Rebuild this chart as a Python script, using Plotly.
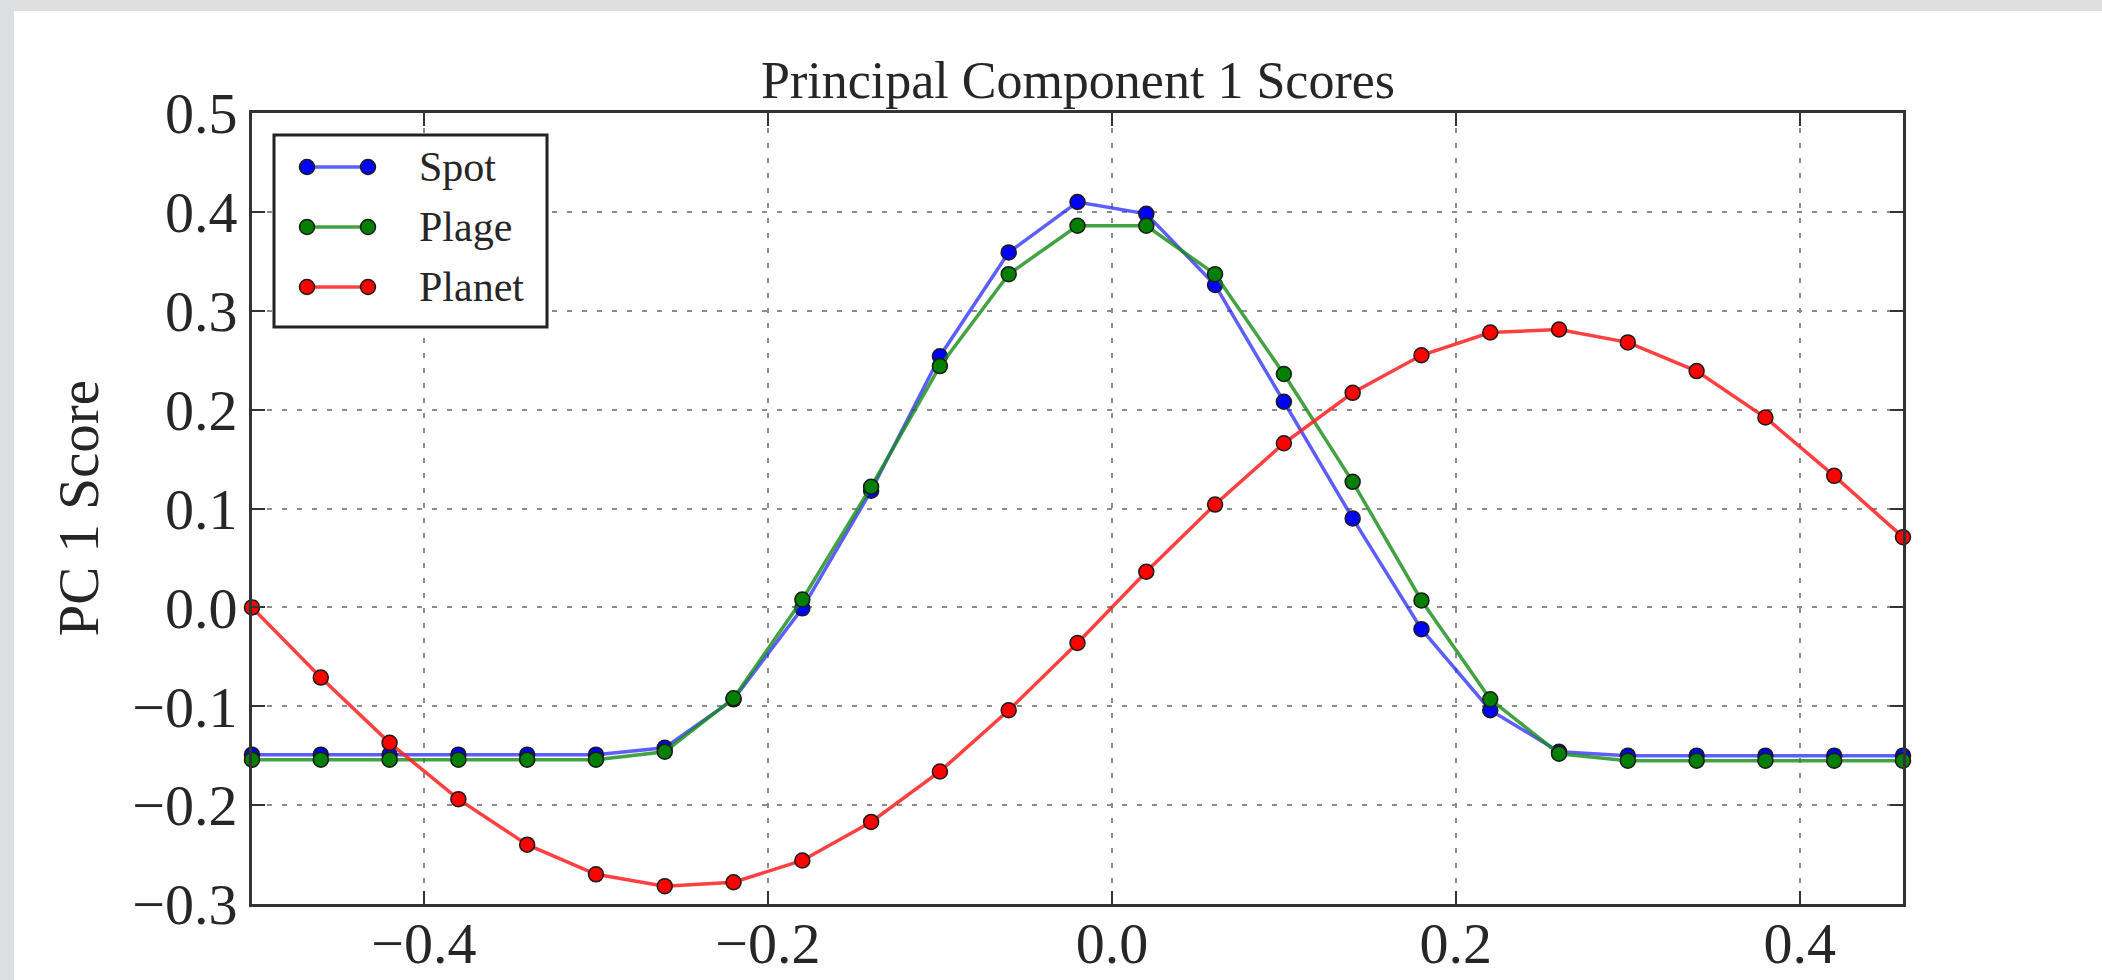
import plotly.graph_objects as go

# Phase positions of the sampled profiles
phase = [-0.50, -0.46, -0.42, -0.38, -0.34, -0.30, -0.26, -0.22, -0.18, -0.14,
         -0.10, -0.06, -0.02, 0.02, 0.06, 0.10, 0.14, 0.18, 0.22, 0.26,
         0.30, 0.34, 0.38, 0.42, 0.46]

# PC 1 scores for each scenario
spot = [-0.149, -0.149, -0.149, -0.149, -0.149, -0.149, -0.142, -0.093, -0.001, 0.118,
        0.254, 0.359, 0.410, 0.398, 0.326, 0.208, 0.090, -0.022, -0.104, -0.146,
        -0.150, -0.150, -0.150, -0.150, -0.150]
plage = [-0.154, -0.154, -0.154, -0.154, -0.154, -0.154, -0.146, -0.092, 0.008, 0.122,
         0.244, 0.337, 0.386, 0.386, 0.337, 0.236, 0.127, 0.007, -0.093, -0.148,
         -0.155, -0.155, -0.155, -0.155, -0.155]
planet = [0.000, -0.071, -0.137, -0.194, -0.240, -0.270, -0.282, -0.278, -0.256, -0.217,
          -0.166, -0.104, -0.036, 0.036, 0.104, 0.166, 0.217, 0.255, 0.278, 0.281,
          0.268, 0.239, 0.192, 0.133, 0.071]

series_names = ["Spot", "Plage", "Planet"]
marker_colors = ["#0000ff", "#007f00", "#ff0000"]
line_colors = ["rgba(40,40,255,0.75)", "rgba(20,140,20,0.8)", "rgba(255,30,30,0.85)"]

x_ticks = [-0.4, -0.2, 0.0, 0.2, 0.4]
y_ticks = [-0.3, -0.2, -0.1, 0.0, 0.1, 0.2, 0.3, 0.4, 0.5]

W, H = 2102, 980
L, R, T, B = 252, 1903, 113, 904  # plot area in pixels
SERIF = "Liberation Serif, Times New Roman, serif"
INK = "#262626"


def px(X):
    return (X - L) / (R - L)


def py(Y):
    return (B - Y) / (B - T)


fig = go.Figure()
for name, ys, mc, lc in zip(series_names, [spot, plage, planet], marker_colors, line_colors):
    fig.add_trace(go.Scatter(
        x=phase, y=ys, name=name, mode="lines+markers",
        line=dict(color=lc, width=3.5),
        marker=dict(color=mc, size=15, line=dict(color="#1a1a1a", width=1.5)),
        showlegend=False, cliponaxis=False,
    ))

axis_common = dict(
    automargin=False,
    showline=True, linecolor="#333333", linewidth=3, mirror="ticks",
    ticks="inside", ticklen=13, tickwidth=2, tickcolor="#333333",
    showgrid=True, gridcolor="#8c8c8c", gridwidth=2, griddash="5px,10px",
    zeroline=False,
    tickfont=dict(family=SERIF, size=58, color=INK),
    tickformat=".1f",
)

fig.update_xaxes(range=[-0.5, 0.46], tickvals=x_ticks, ticklabelstandoff=-14, **axis_common)
fig.update_yaxes(range=[-0.3, 0.5], tickvals=y_ticks, **axis_common)

shapes = []
annotations = []

# page frame: grey strips along the top and left edges
shapes.append(dict(type="rect", xref="paper", yref="paper", layer="below",
                   x0=px(0), x1=px(14), y0=py(0), y1=py(H),
                   fillcolor="#dcdee0", line=dict(width=0)))
shapes.append(dict(type="rect", xref="paper", yref="paper", layer="below",
                   x0=px(0), x1=px(W), y0=py(0), y1=py(11),
                   fillcolor="#dcdee0", line=dict(width=0)))

# legend box
shapes.append(dict(type="rect", xref="paper", yref="paper", layer="above",
                   x0=px(274), x1=px(547), y0=py(135), y1=py(327),
                   fillcolor="white", line=dict(color="#222222", width=3)))
rows = [167, 227, 287]
for name, mc, lc, Y in zip(series_names, marker_colors, line_colors, rows):
    shapes.append(dict(type="line", xref="paper", yref="paper", layer="above",
                       x0=px(307), x1=px(368), y0=py(Y), y1=py(Y),
                       line=dict(color=lc, width=3.5)))
    for Xc in (307, 368):
        shapes.append(dict(type="circle", xref="paper", yref="paper", layer="above",
                           xsizemode="pixel", ysizemode="pixel",
                           xanchor=px(Xc), yanchor=py(Y),
                           x0=-7.5, x1=7.5, y0=-7.5, y1=7.5,
                           fillcolor=mc, line=dict(color="#1a1a1a", width=1.5)))
    annotations.append(dict(xref="paper", yref="paper", x=px(417), y=py(Y),
                            xanchor="left", yanchor="middle", showarrow=False,
                            text=name, font=dict(family=SERIF, size=42, color=INK)))

# y-axis label
annotations.append(dict(xref="paper", yref="paper", x=px(78), y=0.5,
                        xanchor="center", yanchor="middle", showarrow=False,
                        textangle=-90, text="PC 1 Score",
                        font=dict(family=SERIF, size=57, color=INK)))
# title
annotations.append(dict(xref="paper", yref="paper", x=0.5, y=py(80),
                        xanchor="center", yanchor="middle", showarrow=False,
                        text="Principal Component 1 Scores",
                        font=dict(family=SERIF, size=52, color=INK)))

fig.update_layout(
    width=W, height=H,
    margin=dict(l=L, r=W - R, t=T, b=H - B),
    paper_bgcolor="white", plot_bgcolor="white",
    shapes=shapes, annotations=annotations,
    showlegend=False,
)

fig.write_html("out.html")
